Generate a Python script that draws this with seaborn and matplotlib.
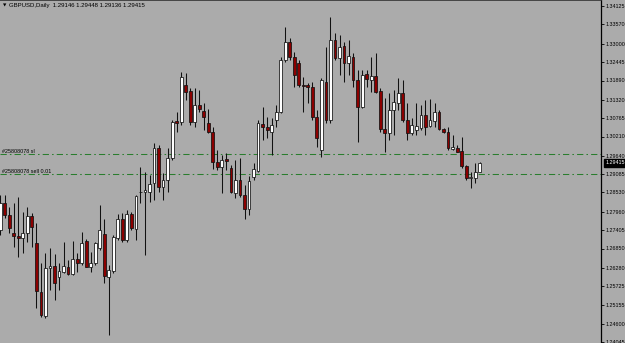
import numpy as np
import pandas as pd
import matplotlib
matplotlib.use("Agg")
import matplotlib.pyplot as plt
import seaborn as sns

# ---- data (GBPUSD daily candles) ----
opens = [1.27405, 1.28206, 1.27855, 1.27306, 1.27225, 1.27156, 1.27306, 1.27825, 1.27024, 1.25554,
         1.24825, 1.26256, 1.26325, 1.25986, 1.26154, 1.26286, 1.26076, 1.26526, 1.26406, 1.27075,
         1.26304, 1.26406, 1.26856, 1.27285, 1.26004, 1.26184, 1.27156, 1.27744, 1.27105, 1.27876,
         1.27426, 1.28554, 1.28545, 1.28554, 1.28806, 1.29856, 1.28704, 1.28905, 1.29556, 1.30675,
         1.30636, 1.31755, 1.31584, 1.30636, 1.31155, 1.30984, 1.30624, 1.30354, 1.29454, 1.29304,
         1.29526, 1.29256, 1.28524, 1.28905, 1.28455, 1.28026, 1.28986, 1.29184, 1.30585, 1.30504,
         1.30354, 1.30705, 1.30954, 1.32505, 1.33054, 1.32604, 1.32406, 1.31755, 1.31755, 1.31686,
         1.30804, 1.29805, 1.31854, 1.30705, 1.33105, 1.32556, 1.32925, 1.32406, 1.32604, 1.31905,
         1.31104, 1.32076, 1.31905, 1.32025, 1.31575, 1.30426, 1.30324, 1.31005, 1.31224, 1.31506,
         1.30705, 1.30324, 1.30405, 1.30456, 1.30855, 1.30525, 1.30684, 1.30954, 1.30435, 1.30354,
         1.29826, 1.29856, 1.29775, 1.29325, 1.28956, 1.28956, 1.29146]
highs = [1.28455, 1.28455, 1.28104, 1.28206, 1.28386, 1.27954, 1.28104, 1.27906, 1.27606, 1.26415,
         1.26706, 1.26856, 1.26685, 1.26406, 1.27054, 1.26505, 1.27084, 1.26724, 1.27354, 1.27126,
         1.26754, 1.27054, 1.28155, 1.27726, 1.26355, 1.27255, 1.27876, 1.27906, 1.28005, 1.27954,
         1.28455, 1.29304, 1.29154, 1.29055, 1.30006, 1.29955, 1.29106, 1.29856, 1.30705, 1.30954,
         1.32154, 1.32106, 1.31656, 1.31656, 1.31605, 1.31206, 1.31026, 1.30504, 1.29805, 1.29655,
         1.29724, 1.29355, 1.29505, 1.29556, 1.28755, 1.29025, 1.29406, 1.30705, 1.31104, 1.30804,
         1.30756, 1.31155, 1.32604, 1.33504, 1.33156, 1.32754, 1.32505, 1.32004, 1.31806, 1.31854,
         1.31005, 1.31956, 1.32904, 1.33804, 1.33306, 1.33255, 1.33054, 1.33105, 1.32706, 1.32205,
         1.32205, 1.32205, 1.32604, 1.32706, 1.31656, 1.31356, 1.31506, 1.31605, 1.31956, 1.31905,
         1.31206, 1.30756, 1.31206, 1.31155, 1.31305, 1.31326, 1.31206, 1.31005, 1.30456, 1.30504,
         1.30255, 1.29955, 1.30204, 1.29355, 1.29154, 1.29406, 1.29448]
lows = [1.27255, 1.27765, 1.27306, 1.26904, 1.26604, 1.26706, 1.27054, 1.26904, 1.25056, 1.24804,
        1.24756, 1.25605, 1.25305, 1.25605, 1.26106, 1.26055, 1.26046, 1.26154, 1.26355, 1.26286,
        1.26154, 1.26355, 1.26805, 1.25806, 1.24255, 1.26106, 1.27105, 1.27054, 1.27054, 1.27405,
        1.27105, 1.28206, 1.26655, 1.28254, 1.28305, 1.28554, 1.28305, 1.28554, 1.29505, 1.30354,
        1.30555, 1.31305, 1.30555, 1.30504, 1.30954, 1.30405, 1.30306, 1.29226, 1.29205, 1.28506,
        1.29205, 1.28506, 1.28356, 1.28404, 1.27726, 1.27855, 1.28905, 1.29154, 1.30105, 1.30156,
        1.29655, 1.30504, 1.30906, 1.32445, 1.32505, 1.31704, 1.31704, 1.30954, 1.31206, 1.30705,
        1.29904, 1.29604, 1.30606, 1.30606, 1.32505, 1.32055, 1.31854, 1.32055, 1.31704, 1.30054,
        1.31056, 1.31704, 1.31554, 1.31506, 1.30354, 1.29754, 1.30105, 1.30255, 1.31005, 1.30654,
        1.30105, 1.30255, 1.30255, 1.30405, 1.30255, 1.30504, 1.30486, 1.30405, 1.30306, 1.29805,
        1.29805, 1.29740, 1.29256, 1.28905, 1.28656, 1.28806, 1.29136]
closes = [1.28206, 1.27855, 1.27456, 1.27225, 1.27156, 1.27324, 1.27825, 1.27504, 1.25584, 1.24855,
          1.26256, 1.26325, 1.25824, 1.26184, 1.26325, 1.26076, 1.26526, 1.26424, 1.27024, 1.26304,
          1.26424, 1.27006, 1.27405, 1.26025, 1.26205, 1.27186, 1.27744, 1.27105, 1.27876, 1.27456,
          1.28425, 1.28545, 1.28605, 1.28785, 1.29856, 1.28704, 1.28905, 1.29556, 1.30654, 1.30624,
          1.31986, 1.31554, 1.30636, 1.31155, 1.31026, 1.30786, 1.30354, 1.29454, 1.29304, 1.29505,
          1.29475, 1.28554, 1.28905, 1.28455, 1.28026, 1.28884, 1.29226, 1.30606, 1.30486, 1.30405,
          1.30555, 1.30954, 1.32505, 1.33054, 1.32604, 1.32055, 1.31755, 1.31725, 1.31686, 1.30804,
          1.30156, 1.31905, 1.30705, 1.33105, 1.32556, 1.32904, 1.32424, 1.32625, 1.31905, 1.31104,
          1.32055, 1.31926, 1.32025, 1.31554, 1.30426, 1.30324, 1.31005, 1.31236, 1.31524, 1.30705,
          1.30324, 1.30555, 1.30525, 1.30855, 1.30504, 1.30705, 1.30954, 1.30426, 1.30354, 1.29856,
          1.29886, 1.29754, 1.29325, 1.28956, 1.28986, 1.29154, 1.29415]

price_ticks = [1.34125, 1.33570, 1.33000, 1.32445, 1.31890, 1.31320, 1.30765, 1.30210, 1.29640,
               1.29085, 1.28530, 1.27960, 1.27405, 1.26850, 1.26280, 1.25725, 1.25155, 1.24600, 1.24045]
sl_price = 1.29673
sell_price = 1.29073
last_price = 1.29415
symbol = "GBPUSD,Daily"
sl_label = "#25808078 sl"
sell_label = "#25808078 sell 0.01"

df = pd.DataFrame({"open": opens, "high": highs, "low": lows, "close": closes})
df["idx"] = np.arange(len(df))
df["bull"] = df["close"] >= df["open"]

BG = "#ababab"
RED = "#8b0000"
GREEN = "#2a7d2e"

sns.set_theme(style="white", rc={"axes.facecolor": BG, "figure.facecolor": BG})
plt.rcParams["font.family"] = ["Liberation Sans", "DejaVu Sans"]

W, H = 625, 343
fig = plt.figure(figsize=(W / 100, H / 100), dpi=100)
ax = fig.add_axes([0, 0, 601 / W, 1])
ax.set_facecolor(BG)

# wicks
ax.vlines(df["idx"], df["low"], df["high"], color="#111111", lw=0.75, zorder=2)
# bodies
bottom = np.minimum(df["open"], df["close"])
height = np.maximum(np.abs(df["close"] - df["open"]), 0.00004)
colors = np.where(df["bull"], "white", RED)
ax.bar(df["idx"], height, bottom=bottom, width=0.62, color=colors,
       edgecolor="#111111", linewidth=0.55, zorder=3)

# order lines (dash-dot, green)
for p in (sl_price, sell_price):
    ax.axhline(p, color=GREEN, lw=0.75, dashes=(6, 3, 1.5, 3), zorder=1, snap=True)

ax.set_xlim(-0.05, 132.8)
ax.set_ylim(1.34305 - 343 * 0.0003, 1.34305)

ax.yaxis.tick_right()
ax.set_yticks(price_ticks)
ax.set_yticklabels([f"{t:.5f}" for t in price_ticks], fontsize=3.9, color="black")
ax.tick_params(axis="y", direction="out", length=2, width=0.6, pad=1.2, colors="black")
ax.set_xticks([])
for s in ("left", "bottom"):
    ax.spines[s].set_visible(False)
ax.spines["right"].set_color("black")
ax.spines["right"].set_linewidth(0.9)
ax.spines["top"].set_color("#333333")
ax.spines["top"].set_linewidth(1.2)

# current price box
ax.annotate(f"{last_price:.5f}", xy=(1.0, last_price), xycoords=("axes fraction", "data"),
            xytext=(3, 0), textcoords="offset points", fontsize=3.9, color="white",
            va="center", ha="left",
            bbox=dict(boxstyle="square,pad=0.25", fc="black", ec="black"))

# header text
fig.text(3 / W, 1 - 5.5 / H, "\u25BC", fontsize=3.2, color="black", va="center", ha="left",
         family=["DejaVu Sans"])
o, h, l, c = opens[-1], highs[-1], lows[-1], closes[-1]
fig.text(9 / W, 1 - 5.5 / H, f"{symbol}  {o:.5f} {h:.5f} {l:.5f} {c:.5f}",
         fontsize=4.3, color="black", va="center", ha="left")

# order labels
fig.text(2 / W, 1 - 151.5 / H, sl_label, fontsize=3.9, color="black", va="center", ha="left")
fig.text(2 / W, 1 - 171.5 / H, sell_label, fontsize=3.9, color="black", va="center", ha="left")

fig.savefig("out.png", dpi=100, facecolor=BG)
